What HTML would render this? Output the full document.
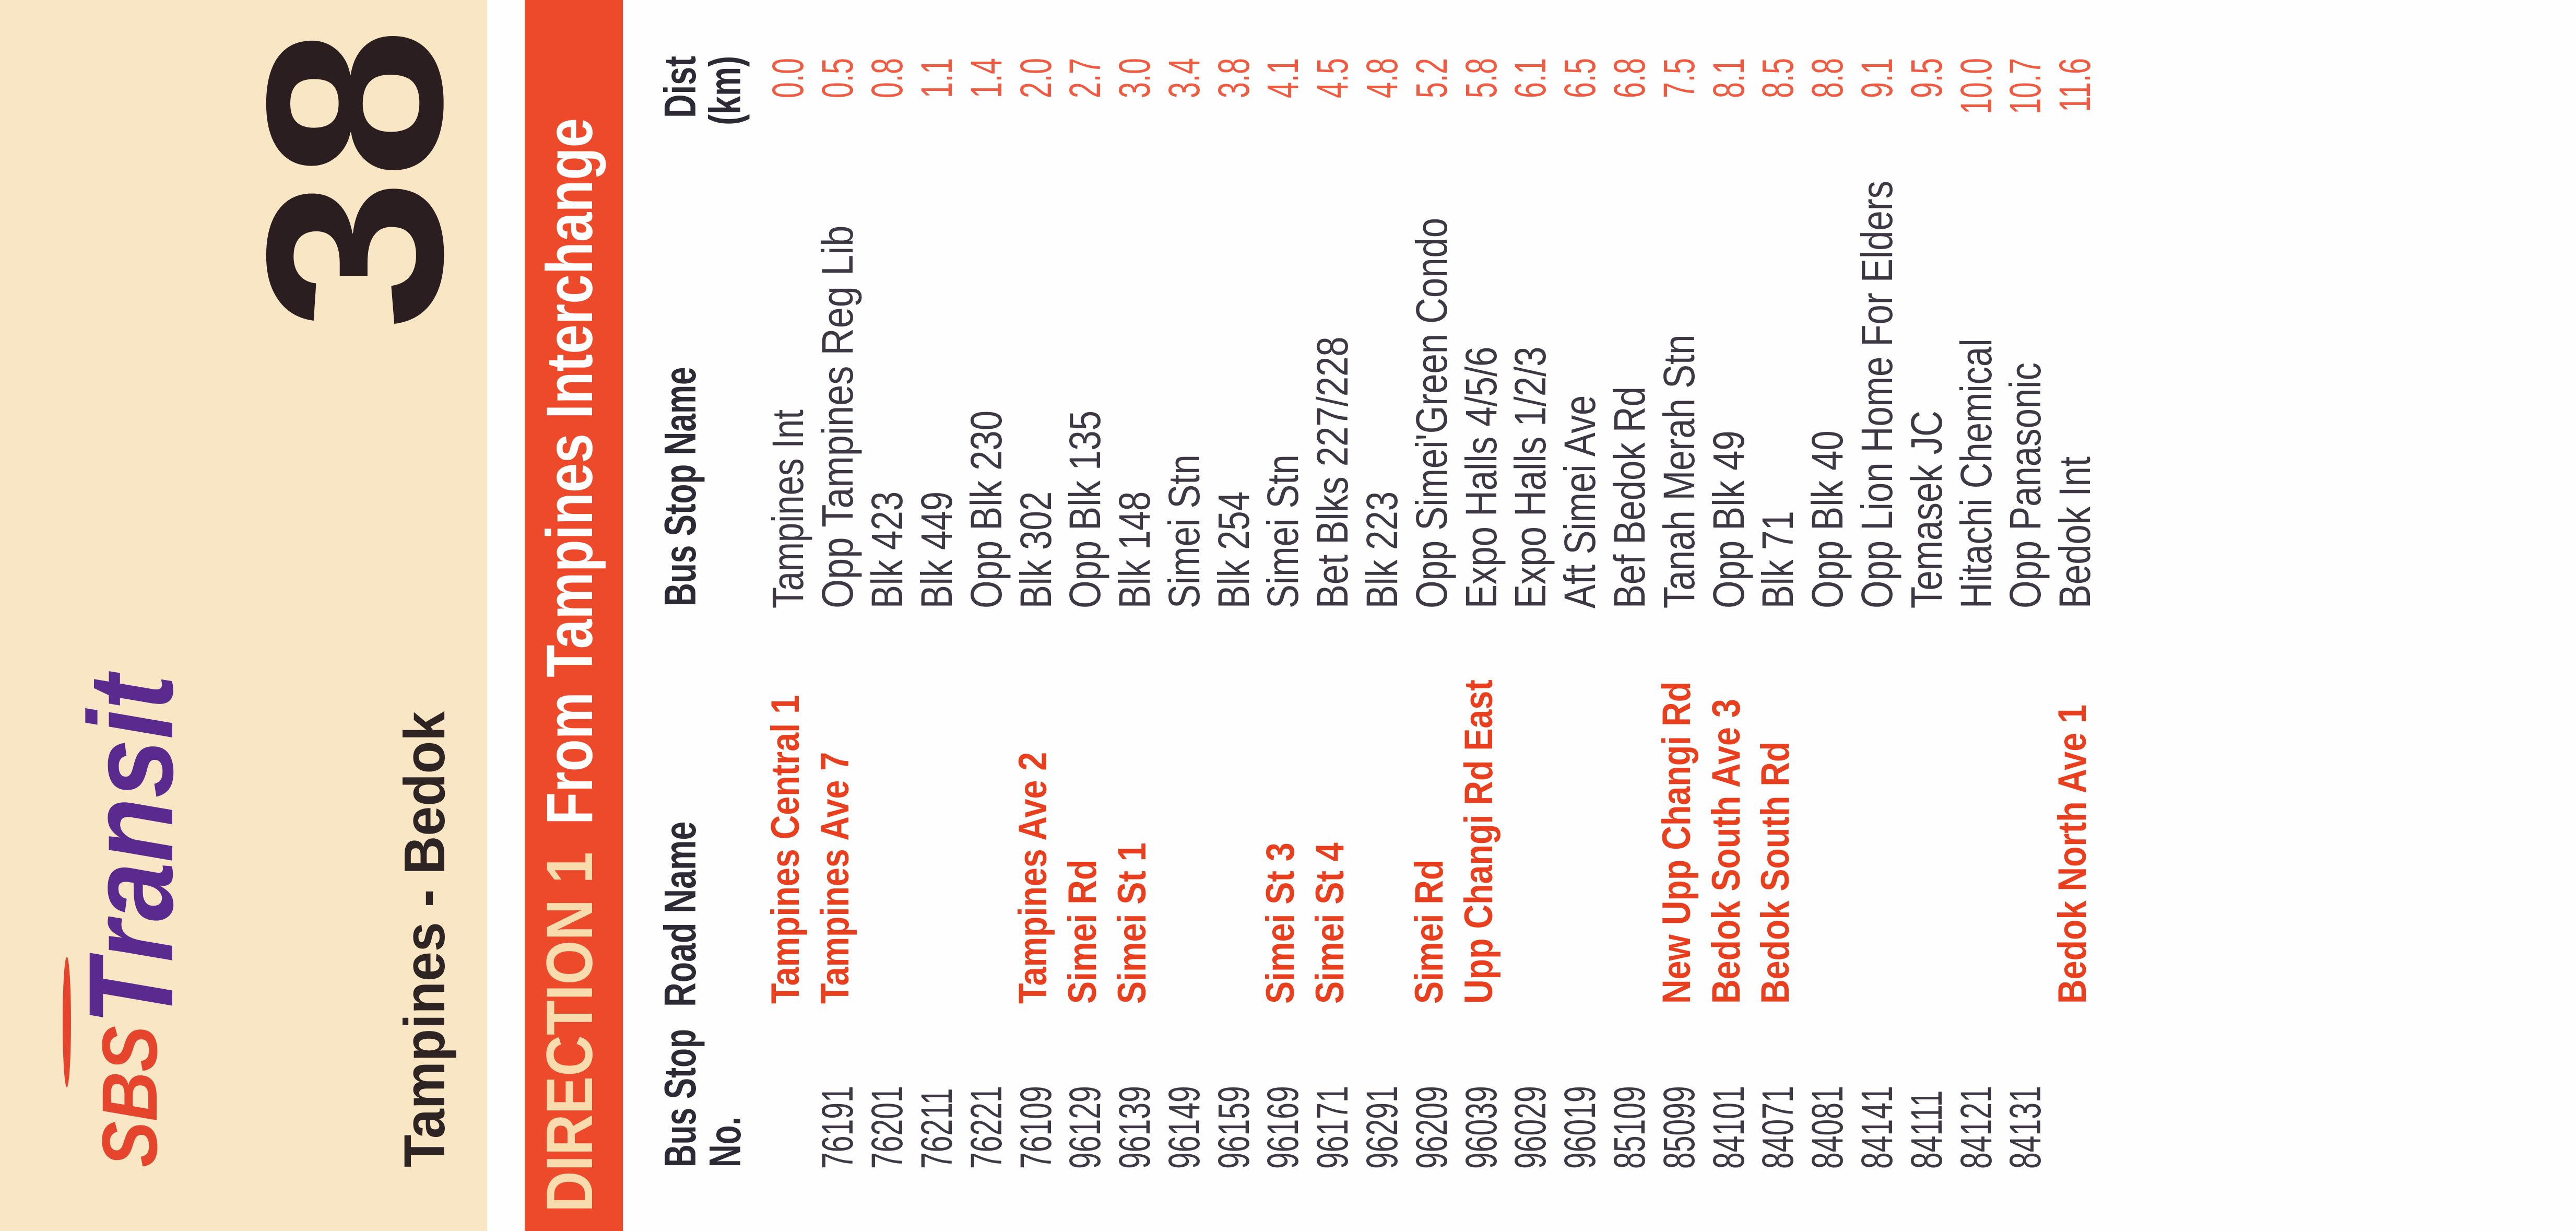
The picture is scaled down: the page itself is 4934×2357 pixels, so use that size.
<!DOCTYPE html>
<html><head><meta charset="utf-8"><style>
html,body{margin:0;padding:0;background:#fff;}
svg{display:block;}
</style></head><body>
<svg width="4934" height="2357" viewBox="0 0 4934 2357" xmlns="http://www.w3.org/2000/svg">
<rect x="0" y="0" width="4934" height="2357" fill="#fefefe"/>
<rect x="0" y="0" width="933" height="2357" fill="#f9e6c4"/>
<rect x="1005" y="0" width="188" height="2357" fill="#ec4a2b"/>
<g transform="translate(0,2357) rotate(-90)" font-family="Liberation Sans, sans-serif">
  <ellipse cx="400" cy="128" rx="125" ry="8" fill="#e5452c"/>
  <text x="122" y="300" font-size="150" font-weight="bold" font-style="italic" fill="#e5452c" textLength="271" lengthAdjust="spacingAndGlyphs">SBS</text>
  <text x="395" y="330" font-size="230" font-weight="bold" font-style="italic" fill="#5a2a8e" textLength="670" lengthAdjust="spacingAndGlyphs">Transit</text>
  <text x="122" y="851" font-size="110" font-weight="bold" fill="#2e2424" textLength="873" lengthAdjust="spacingAndGlyphs">Tampines - Bedok</text>
  <text x="1725" y="845" font-size="480" font-weight="bold" fill="#2a1e20" textLength="579" lengthAdjust="spacingAndGlyphs">38</text>
  <text x="36" y="1134" font-size="125" font-weight="bold" fill="#f8dcae" textLength="690" lengthAdjust="spacingAndGlyphs">DIRECTION 1</text>
  <text x="778" y="1134" font-size="125" font-weight="bold" fill="#ffffff" textLength="1353" lengthAdjust="spacingAndGlyphs">From Tampines Interchange</text>
  <g font-weight="bold" font-size="85" fill="#2e2a35">
    <text transform="translate(122,1332) scale(0.71,1)">Bus Stop</text>
    <text transform="translate(122,1418) scale(0.71,1)">No.</text>
    <text transform="translate(429,1332) scale(0.76,1)">Road Name</text>
    <text transform="translate(1196,1332) scale(0.73,1)">Bus Stop Name</text>
    <text transform="translate(2250,1332) scale(0.74,1)" text-anchor="end">Dist</text>
    <text transform="translate(2250,1418) scale(0.74,1)" text-anchor="end">(km)</text>
  </g>
  <g font-size="84" fill="#3e3845">
    <text transform="translate(119,1633) scale(0.68,1)">76191</text>
    <text transform="translate(119,1728) scale(0.68,1)">76201</text>
    <text transform="translate(119,1823) scale(0.68,1)">76211</text>
    <text transform="translate(119,1918) scale(0.68,1)">76221</text>
    <text transform="translate(119,2013) scale(0.68,1)">76109</text>
    <text transform="translate(119,2107) scale(0.68,1)">96129</text>
    <text transform="translate(119,2202) scale(0.68,1)">96139</text>
    <text transform="translate(119,2297) scale(0.68,1)">96149</text>
    <text transform="translate(119,2392) scale(0.68,1)">96159</text>
    <text transform="translate(119,2486) scale(0.68,1)">96169</text>
    <text transform="translate(119,2581) scale(0.68,1)">96171</text>
    <text transform="translate(119,2676) scale(0.68,1)">96291</text>
    <text transform="translate(119,2771) scale(0.68,1)">96209</text>
    <text transform="translate(119,2866) scale(0.68,1)">96039</text>
    <text transform="translate(119,2960) scale(0.68,1)">96029</text>
    <text transform="translate(119,3055) scale(0.68,1)">96019</text>
    <text transform="translate(119,3150) scale(0.68,1)">85109</text>
    <text transform="translate(119,3245) scale(0.68,1)">85099</text>
    <text transform="translate(119,3340) scale(0.68,1)">84101</text>
    <text transform="translate(119,3434) scale(0.68,1)">84071</text>
    <text transform="translate(119,3529) scale(0.68,1)">84081</text>
    <text transform="translate(119,3624) scale(0.68,1)">84141</text>
    <text transform="translate(119,3719) scale(0.68,1)">84111</text>
    <text transform="translate(119,3814) scale(0.68,1)">84121</text>
    <text transform="translate(119,3908) scale(0.68,1)">84131</text>
  </g>
  <g font-size="76" font-weight="bold" fill="#e8401f">
    <text transform="translate(435,1530) scale(0.85,1)">Tampines Central 1</text>
    <text transform="translate(435,1625) scale(0.85,1)">Tampines Ave 7</text>
    <text transform="translate(435,2004) scale(0.85,1)">Tampines Ave 2</text>
    <text transform="translate(435,2099) scale(0.85,1)">Simei Rd</text>
    <text transform="translate(435,2194) scale(0.85,1)">Simei St 1</text>
    <text transform="translate(435,2478) scale(0.85,1)">Simei St 3</text>
    <text transform="translate(435,2573) scale(0.85,1)">Simei St 4</text>
    <text transform="translate(435,2763) scale(0.85,1)">Simei Rd</text>
    <text transform="translate(435,2858) scale(0.85,1)">Upp Changi Rd East</text>
    <text transform="translate(435,3237) scale(0.85,1)">New Upp Changi Rd</text>
    <text transform="translate(435,3332) scale(0.85,1)">Bedok South Ave 3</text>
    <text transform="translate(435,3426) scale(0.85,1)">Bedok South Rd</text>
    <text transform="translate(435,3995) scale(0.85,1)">Bedok North Ave 1</text>
  </g>
  <g font-size="84" fill="#3e3845">
    <text transform="translate(1192,1538) scale(0.8,1)">Tampines Int</text>
    <text transform="translate(1192,1633) scale(0.86,1)">Opp Tampines Reg Lib</text>
    <text transform="translate(1192,1728) scale(0.8,1)">Blk 423</text>
    <text transform="translate(1192,1823) scale(0.8,1)">Blk 449</text>
    <text transform="translate(1192,1918) scale(0.82,1)">Opp Blk 230</text>
    <text transform="translate(1192,2013) scale(0.8,1)">Blk 302</text>
    <text transform="translate(1192,2107) scale(0.82,1)">Opp Blk 135</text>
    <text transform="translate(1192,2202) scale(0.8,1)">Blk 148</text>
    <text transform="translate(1192,2297) scale(0.82,1)">Simei Stn</text>
    <text transform="translate(1192,2392) scale(0.8,1)">Blk 254</text>
    <text transform="translate(1192,2486) scale(0.82,1)">Simei Stn</text>
    <text transform="translate(1192,2581) scale(0.82,1)">Bet Blks 227/228</text>
    <text transform="translate(1192,2676) scale(0.8,1)">Blk 223</text>
    <text transform="translate(1192,2771) scale(0.82,1)">Opp Simei'Green Condo</text>
    <text transform="translate(1192,2866) scale(0.82,1)">Expo Halls 4/5/6</text>
    <text transform="translate(1192,2960) scale(0.82,1)">Expo Halls 1/2/3</text>
    <text transform="translate(1192,3055) scale(0.82,1)">Aft Simei Ave</text>
    <text transform="translate(1192,3150) scale(0.82,1)">Bef Bedok Rd</text>
    <text transform="translate(1192,3245) scale(0.82,1)">Tanah Merah Stn</text>
    <text transform="translate(1192,3340) scale(0.82,1)">Opp Blk 49</text>
    <text transform="translate(1192,3434) scale(0.8,1)">Blk 71</text>
    <text transform="translate(1192,3529) scale(0.82,1)">Opp Blk 40</text>
    <text transform="translate(1192,3624) scale(0.82,1)">Opp Lion Home For Elders</text>
    <text transform="translate(1192,3719) scale(0.82,1)">Temasek JC</text>
    <text transform="translate(1192,3814) scale(0.82,1)">Hitachi Chemical</text>
    <text transform="translate(1192,3908) scale(0.82,1)">Opp Panasonic</text>
    <text transform="translate(1192,4003) scale(0.82,1)">Bedok Int</text>
  </g>
  <g font-size="84" fill="#ef5a40" text-anchor="end">
    <text transform="translate(2246,1538) scale(0.66,1)">0.0</text>
    <text transform="translate(2246,1633) scale(0.66,1)">0.5</text>
    <text transform="translate(2246,1728) scale(0.66,1)">0.8</text>
    <text transform="translate(2246,1823) scale(0.66,1)">1.1</text>
    <text transform="translate(2246,1918) scale(0.66,1)">1.4</text>
    <text transform="translate(2246,2013) scale(0.66,1)">2.0</text>
    <text transform="translate(2246,2107) scale(0.66,1)">2.7</text>
    <text transform="translate(2246,2202) scale(0.66,1)">3.0</text>
    <text transform="translate(2246,2297) scale(0.66,1)">3.4</text>
    <text transform="translate(2246,2392) scale(0.66,1)">3.8</text>
    <text transform="translate(2246,2486) scale(0.66,1)">4.1</text>
    <text transform="translate(2246,2581) scale(0.66,1)">4.5</text>
    <text transform="translate(2246,2676) scale(0.66,1)">4.8</text>
    <text transform="translate(2246,2771) scale(0.66,1)">5.2</text>
    <text transform="translate(2246,2866) scale(0.66,1)">5.8</text>
    <text transform="translate(2246,2960) scale(0.66,1)">6.1</text>
    <text transform="translate(2246,3055) scale(0.66,1)">6.5</text>
    <text transform="translate(2246,3150) scale(0.66,1)">6.8</text>
    <text transform="translate(2246,3245) scale(0.66,1)">7.5</text>
    <text transform="translate(2246,3340) scale(0.66,1)">8.1</text>
    <text transform="translate(2246,3434) scale(0.66,1)">8.5</text>
    <text transform="translate(2246,3529) scale(0.66,1)">8.8</text>
    <text transform="translate(2246,3624) scale(0.66,1)">9.1</text>
    <text transform="translate(2246,3719) scale(0.66,1)">9.5</text>
    <text transform="translate(2246,3814) scale(0.66,1)">10.0</text>
    <text transform="translate(2246,3908) scale(0.66,1)">10.7</text>
    <text transform="translate(2246,4003) scale(0.66,1)">11.6</text>
  </g>
</g>
</svg>
</body></html>
